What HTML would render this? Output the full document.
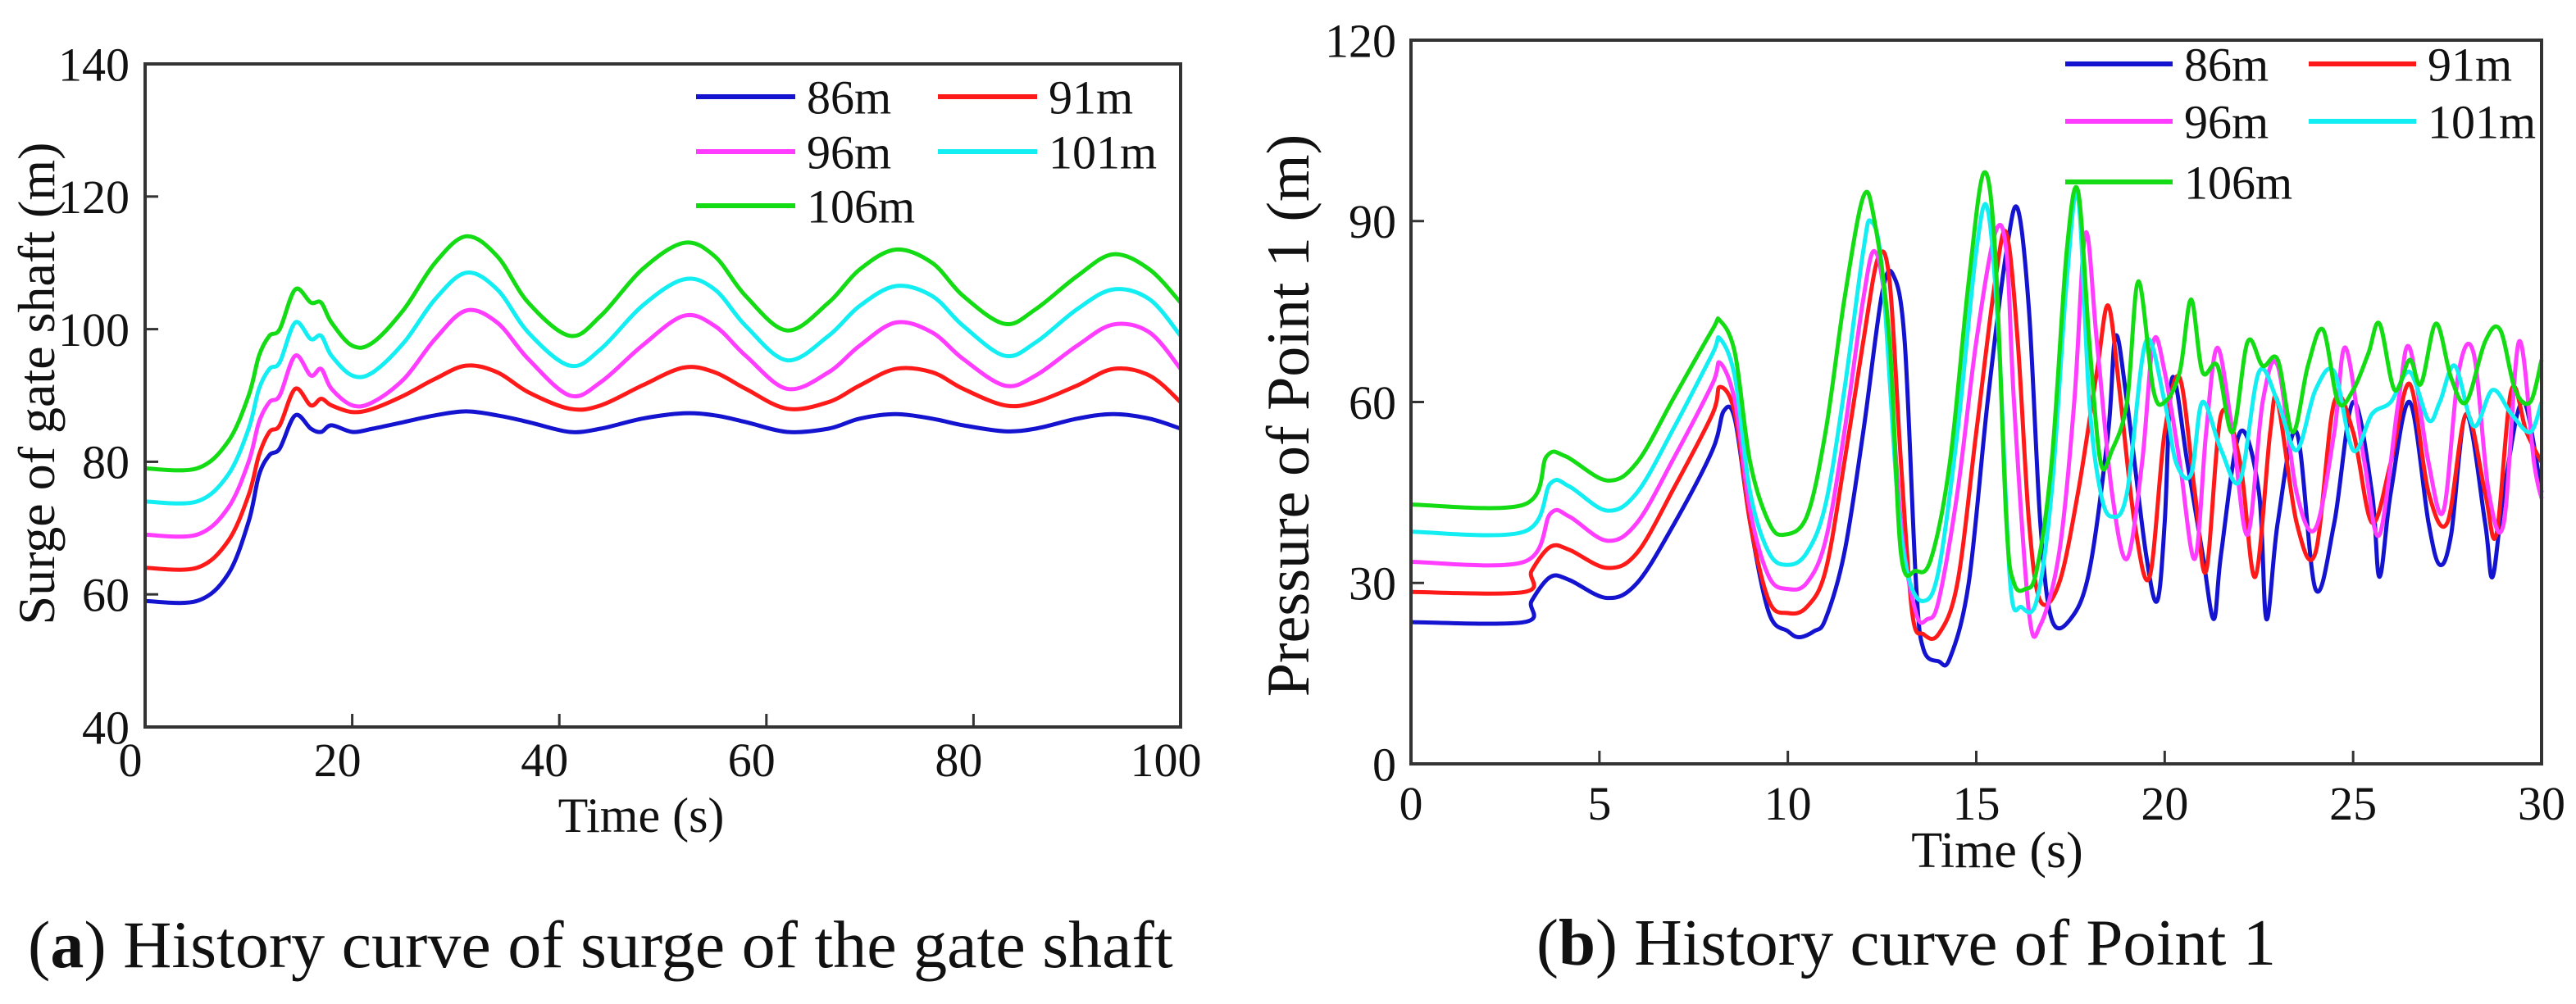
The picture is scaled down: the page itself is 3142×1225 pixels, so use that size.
<!DOCTYPE html>
<html><head><meta charset="utf-8">
<style>
html,body{margin:0;padding:0;background:#fff;}
body{width:3142px;height:1220px;overflow:hidden;}
svg text{font-family:"Liberation Serif",serif;fill:#111;}
</style></head>
<body>
<svg id="fig" width="3142" height="1220" viewBox="0 0 3142 1220" xmlns="http://www.w3.org/2000/svg" font-family="Liberation Serif, serif">
<g id="chartA"></g>
<g id="chartB"></g>
<text x="34" y="1180" font-size="82" font-family="Liberation Serif, serif">(<tspan font-weight="bold">a</tspan>) History curve of surge of the gate shaft</text>
<text x="1874" y="1177" font-size="81" font-family="Liberation Serif, serif">(<tspan font-weight="bold">b</tspan>) History curve of Point 1</text>
</svg>
<script>
// ---------- Chart A data ----------
const aTimes = [0,5,8,10,11,12,13,14.5,16,17,18,20,22,25,28,31,34,37,41,44,48,52,55,58,62,66,69,72.5,76,79,83,86,90,93.5,97,100];
const aGreen = [79,79,83,90,96,99,100,106,104,104,101,97.5,98,103,110,114,111,104,99,102,109,113,111,105,99.8,104,109,112,110,105,100.8,103,108,111.3,109,104];
const aCyan = [74,74,78,85,91,94,95,101,98.5,99,96,93,93.5,98,104.5,108.5,106,99.5,94.5,97,103.5,107.5,106,100.5,95.3,99,103.5,106.5,105,100.5,96,98,103,106,104.5,99];
const aMagenta = [69,69,73,80,86,89,90,96,93,94,91,88.5,89,92.5,98.5,102.8,101,95.5,90,92,97.5,102,100.5,96,91,93.5,97.5,101,99.5,95.5,91.5,93,97.5,100.7,99.5,94];
const aRed = [64,64,68,75,81,84.5,85.5,91,88.5,89.5,88.5,87.5,88,90,92.5,94.5,93.5,90.5,88,88.5,91.5,94.2,93.5,91,88,89,91.5,94,93.5,91,88.5,89,91.5,94,93,89];
const aBlue = [59,59,63,71,78,81,82,87,85,84.5,85.5,84.5,85,86,87,87.6,87,86,84.5,85,86.5,87.3,87,86,84.5,85,86.5,87.2,86.5,85.5,84.6,85,86.5,87.2,86.5,85];
const aXTicks = [0,20,40,60,80,100];
const aYTicks = [40,60,80,100,120,140];

// ---------- Chart B data ----------
const bBlueT = [0,3,3.2,3.7,4.2,5.2,6,7,8,8.3,8.6,9,9.5,10,10.3,10.7,11,11.5,12,12.5,12.8,13.1,13.4,13.6,14,14.3,14.8,15.3,15.8,16.1,16.4,16.7,17,17.5,18,18.5,18.7,19,19.5,19.8,20,20.2,20.6,21,21.3,21.5,22,22.5,22.7,23,23.5,24,24.5,25,25.5,25.7,26,26.5,27,27.3,27.6,28,28.5,28.7,29,29.5,30];
const bBlueV = [23.5,23.5,27,31,30.5,27.5,30,40,52,58.5,57,40,25,22,21,22,24,35,55,78,81,70,30,19,17,17.5,30,60,85,92,75,40,24,24,32,55,71,60,35,27,40,64,50,35,24,35,55,45,24,40,55,29,40,60,45,31,45,60,40,33,38,58,40,31,45,60,45];
const bRedT = [0,3,3.2,3.7,4.2,5.2,6,7,8,8.2,8.6,9,9.5,10,10.5,11,11.5,12,12.4,12.7,13,13.3,13.6,14,14.5,15,15.5,15.8,16.1,16.4,16.7,17.2,17.7,18.2,18.5,18.8,19.2,19.6,20,20.4,20.8,21.1,21.5,22,22.4,22.8,23,23.5,24,24.5,25,25.5,26,26.5,27,27.5,28,28.5,28.8,29.2,29.6,30];
const bRedV = [28.5,28.5,32,36,35.5,32.5,35,46,58,62.5,58,40,27,25,26,32,50,70,84,80,50,25,21.5,21.5,30,55,80,88,70,40,27,30,45,65,76,62,40,31,55,64,45,32,58,50,31,55,60,40,35,60,55,40,50,63,45,40,58,45,38,62,55,50];
const bMagT = [0,3,3.7,4.2,5.2,6,7,8,8.2,8.6,9,9.5,10,10.5,11,11.5,12,12.3,12.6,13,13.4,13.7,14,14.5,15,15.5,15.8,16,16.4,16.7,17.2,17.6,17.9,18.2,18.6,19,19.4,19.7,20,20.4,20.8,21.1,21.4,21.8,22.2,22.6,23,23.5,24,24.5,24.8,25.3,25.7,26.2,26.5,27,27.4,27.8,28.2,28.6,29,29.4,29.8,30];
const bMagV = [33.5,33.5,41.5,41,37,40,51,63,66.5,60,42,31,29,30,37,55,77,85,75,40,25,24,27,45,70,88,85,60,25,23,35,60,88,70,45,34,50,70,65,50,34,55,69,55,38,60,66,45,39,55,69,50,38,60,69,50,42,65,68,45,40,70,50,44];
const bCyanT = [0,3,3.7,4.2,5.2,6,7,8,8.2,8.6,9,9.5,10,10.5,11,11.5,12,12.2,12.5,12.9,13.2,13.6,14,14.5,15,15.3,15.6,15.9,16.2,16.6,17,17.4,17.7,18,18.3,18.6,19,19.5,20,20.3,20.7,21,21.5,22,22.5,23,23.5,24,24.5,25,25.5,26,26.5,27,27.3,27.7,28.2,28.7,29.2,29.7,30];
const bCyanV = [38.5,38.5,46.5,46,42,45,56,68,70.5,64,45,35,33,35,43,62,85,90,82,45,31,27,32,55,85,92,70,30,26,27,45,80,94,60,45,41,45,70,60,50,48,60,52,47,65,60,52,62,65,52,58,60,65,57,60,66,56,62,58,55,60];
const bGreenT = [0,3,3.6,4.1,5.2,6,7,8,8.2,8.6,9,9.5,9.9,10.5,11,11.5,12,12.3,12.7,13,13.4,13.8,14.3,14.8,15.2,15.5,15.8,16,16.3,16.6,17,17.4,17.7,18,18.3,18.6,19,19.3,19.7,20,20.4,20.7,21,21.4,21.8,22.2,22.6,23,23.4,23.8,24.2,24.6,25,25.4,25.7,26.1,26.5,26.8,27.2,27.6,28,28.5,28.9,29.3,29.7,30];
const bGreenV = [43,43,51,51,47,50,61,72,73.5,68,50,40,38,41,55,77,94,90,70,35,32,34,50,80,98,85,40,30,29,32,50,85,95,70,50,52,60,80,62,60,65,77,65,66,55,70,66,67,55,66,72,60,62,68,73,62,67,63,73,64,60,70,72,62,60,67];
const bXTicks = [0,5,10,15,20,25,30];
const bYTicks = [0,30,60,90,120];

const legendLabels = ['86m','91m','96m','101m','106m'];
const COLORS = ['#1414d0','#ff1a1a','#ff3cff','#12eef2','#14dc14'];
const NS = 'http://www.w3.org/2000/svg';
const FF = 'Liberation Serif, serif';

function mk(tag, attrs, parent){
  const e = document.createElementNS(NS, tag);
  for (const k in attrs) e.setAttribute(k, attrs[k]);
  if (tag === 'text') e.setAttribute('font-family', FF);
  parent.appendChild(e);
  return e;
}
function smoothPath(pts){
  let d = 'M' + pts[0][0].toFixed(1) + ',' + pts[0][1].toFixed(1);
  for (let i=0;i<pts.length-1;i++){
    const p0=pts[Math.max(0,i-1)], p1=pts[i], p2=pts[i+1], p3=pts[Math.min(pts.length-1,i+2)];
    const c1x=p1[0]+(p2[0]-p0[0])/6, c1y=p1[1]+(p2[1]-p0[1])/6;
    const c2x=p2[0]-(p3[0]-p1[0])/6, c2y=p2[1]-(p3[1]-p1[1])/6;
    d += ' C'+c1x.toFixed(1)+','+c1y.toFixed(1)+' '+c2x.toFixed(1)+','+c2y.toFixed(1)+' '+p2[0].toFixed(1)+','+p2[1].toFixed(1);
  }
  return d;
}

function drawChart(g, cfg){
  const X = v => cfg.x0 + (v-cfg.xmin)/(cfg.xmax-cfg.xmin)*(cfg.x1-cfg.x0);
  const Y = v => cfg.y1 - (v-cfg.ymin)/(cfg.ymax-cfg.ymin)*(cfg.y1-cfg.y0);
  cfg.series.forEach((s, i) => {
    const pts = s.t.map((t,j)=>[X(t), Y(s.v[j])]);
    const p = mk('path', {d: smoothPath(pts), fill:'none', stroke: COLORS[i], 'stroke-width': 5, 'stroke-linejoin':'round'}, g);
    
    
  });
  const fr = mk('rect', {x:cfg.x0, y:cfg.y0, width:cfg.x1-cfg.x0, height:cfg.y1-cfg.y0, fill:'none', stroke:'#333', 'stroke-width':4}, g);
  
  
  cfg.xticks.forEach(v => {
    const l = mk('line', {x1:X(v), x2:X(v), y1:cfg.y1, y2:cfg.y1-16, stroke:'#333', 'stroke-width':3}, g);
    
    
    const t = mk('text', {x:X(v)+cfg.xlabDx, y:cfg.xlabY, 'font-size':cfg.fs, 'text-anchor':'middle'}, g);
    t.textContent = v;
    
    
  });
  cfg.yticks.forEach(v => {
    const l = mk('line', {x1:cfg.x0, x2:cfg.x0+16, y1:Y(v), y2:Y(v), stroke:'#333', 'stroke-width':3}, g);
    
    
    const t = mk('text', {x:cfg.ylabX, y:Y(v)+cfg.fs*0.35, 'font-size':cfg.fs, 'text-anchor':'end'}, g);
    t.textContent = v;
    
    
  });
  const xt = mk('text', {x:cfg.xtitleX, y:cfg.xtitleY, 'font-size':cfg.xtfs, 'text-anchor':'middle'}, g);
  xt.textContent = 'Time (s)';
  
  
  const yt = mk('text', {x:0, y:0, 'font-size':cfg.ytfs, 'text-anchor':'middle', transform:'translate('+cfg.ytitleX+','+cfg.ytitleY+') rotate(-90)'}, g);
  yt.textContent = cfg.ytitle;
  
  
  legendLabels.forEach((lab, i) => {
    const col = i % 2, row = Math.floor(i/2);
    const lx = cfg.leg.cols[col], ly = cfg.leg.rows[row];
    const entry = mk('g', {}, g);
    
    
    mk('line', {x1:lx, x2:lx+cfg.leg.len, y1:ly, y2:ly, stroke:COLORS[i], 'stroke-width':6}, entry);
    const t = mk('text', {x:lx+cfg.leg.len+14, y:ly+cfg.legfs*0.35, 'font-size':cfg.legfs}, entry);
    t.textContent = lab;
  });
}

drawChart(document.getElementById('chartA'), {
  x0:177, x1:1440, y0:78, y1:887, xmin:0, xmax:100, ymin:40, ymax:140,
  xticks:aXTicks, yticks:aYTicks, fs:58, xtfs:60, ytfs:64, legfs:58, xlabDx:-18, xlabY:947, ylabX:158,
  xtitleX:782, xtitleY:1015, ytitleX:66, ytitleY:468, ytitle:'Surge of gate shaft (m)',
  leg:{cols:[849,1144], rows:[118,185,251], len:121},
  series:[{t:aTimes,v:aBlue},{t:aTimes,v:aRed},{t:aTimes,v:aMagenta},{t:aTimes,v:aCyan},{t:aTimes,v:aGreen}]
});
drawChart(document.getElementById('chartB'), {
  x0:1721, x1:3100, y0:49, y1:932, xmin:0, xmax:30, ymin:0, ymax:120,
  xticks:bXTicks, yticks:bYTicks, fs:58, xtfs:62, ytfs:74, legfs:58, xlabDx:0, xlabY:1000, ylabX:1703,
  xtitleX:2436, xtitleY:1058, ytitleX:1596, ytitleY:507, ytitle:'Pressure of Point 1 (m)',
  leg:{cols:[2519,2816], rows:[78,148,222], len:131},
  series:[{t:bBlueT,v:bBlueV},{t:bRedT,v:bRedV},{t:bMagT,v:bMagV},{t:bCyanT,v:bCyanV},{t:bGreenT,v:bGreenV}]
});
</script>
</body></html>
